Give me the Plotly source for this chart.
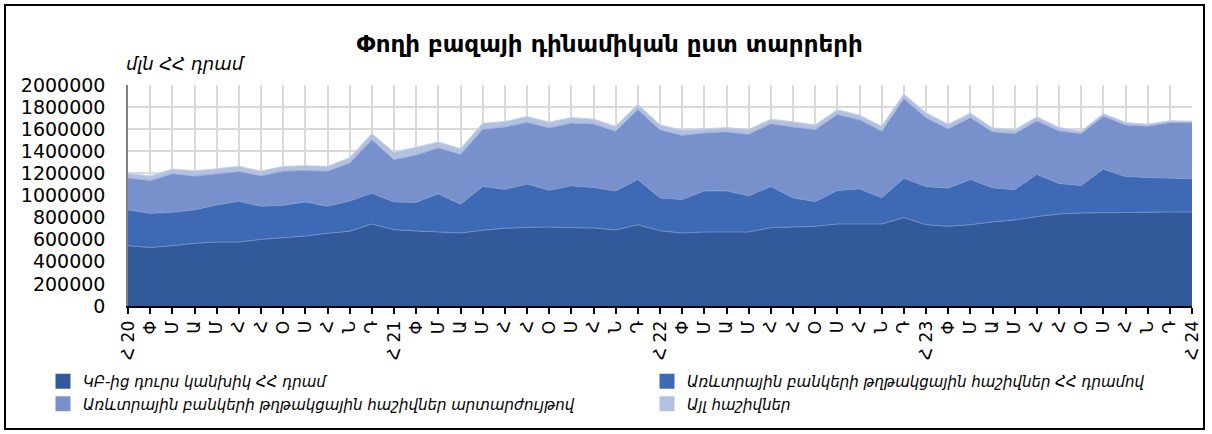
import plotly.graph_objects as go

# Month labels (Jan 2020 .. Jan 2024)
tick_labels = [
    "Հ 20", "Փ", "Մ", "Ա", "Մ", "Հ", "Հ", "Օ", "Ս", "Հ", "Ն", "Դ",
    "Հ 21", "Փ", "Մ", "Ա", "Մ", "Հ", "Հ", "Օ", "Ս", "Հ", "Ն", "Դ",
    "Հ 22", "Փ", "Մ", "Ա", "Մ", "Հ", "Հ", "Օ", "Ս", "Հ", "Ն", "Դ",
    "Հ 23", "Փ", "Մ", "Ա", "Մ", "Հ", "Հ", "Օ", "Ս", "Հ", "Ն", "Դ",
    "Հ 24",
]

series_names = [
    "ԿԲ-ից դուրս կանխիկ ՀՀ դրամ",
    "Առևտրային բանկերի թղթակցային հաշիվներ ՀՀ դրամով",
    "Առևտրային բանկերի թղթակցային հաշիվներ արտարժույթով",
    "Այլ հաշիվներ",
]

cash_outside_cb = [
    545000, 530000, 545000, 567000, 579000, 579000, 603000, 618000, 633000, 658000, 676000, 742000,
    690000, 679000, 673000, 661000, 685000, 703000, 712000, 715000, 709000, 706000, 688000, 736000,
    681000, 661000, 670000, 670000, 670000, 709000, 718000, 721000, 742000, 742000, 742000, 800000,
    736000, 721000, 736000, 761000, 779000, 809000, 833000, 842000, 845000, 851000, 851000, 851000,
    851000,
]
corr_amd = [
    325000, 309000, 303000, 303000, 336000, 369000, 300000, 294000, 309000, 245000, 275000, 279000,
    252000, 260000, 342000, 260000, 397000, 354000, 391000, 333000, 379000, 367000, 354000, 409000,
    297000, 303000, 372000, 372000, 327000, 373000, 261000, 224000, 303000, 319000, 237000, 357000,
    346000, 346000, 409000, 309000, 275000, 382000, 276000, 249000, 394000, 322000, 313000, 304000,
    301000,
]
corr_fx = [
    290000, 297000, 349000, 306000, 282000, 270000, 276000, 309000, 285000, 318000, 343000, 485000,
    383000, 428000, 418000, 452000, 518000, 564000, 560000, 564000, 569000, 575000, 540000, 634000,
    616000, 581000, 525000, 534000, 557000, 569000, 642000, 652000, 688000, 627000, 603000, 719000,
    624000, 536000, 561000, 506000, 506000, 485000, 476000, 469000, 479000, 466000, 463000, 506000,
    509000,
]
other_accounts = [
    43000, 40000, 42000, 48000, 45000, 46000, 42000, 43000, 43000, 43000, 48000, 54000,
    66000, 72000, 52000, 51000, 54000, 49000, 52000, 52000, 49000, 43000, 45000, 45000,
    46000, 46000, 39000, 39000, 43000, 40000, 46000, 42000, 43000, 39000, 45000, 42000,
    42000, 42000, 39000, 36000, 34000, 36000, 30000, 22000, 24000, 22000, 18000, 15000,
    12000,
]

fill_colors = ["#32599a", "#3d69b5", "#7891cc", "#b3c1e1"]
line_colors = ["#6f8fc4", "#7f9ad0", "#9fb2dc", "#c6d1ea"]
legend_ids = ["legend", "legend2", "legend", "legend2"]

x = list(range(len(tick_labels)))
FONT = "DejaVu Sans"

W, H = 1212, 434
ML, MR, MT, MB = 128, 20, 85, 128
PW, PH = W - ML - MR, H - MT - MB


def px_x(p):
    return (p - ML) / PW


def px_y(p):
    return (H - MB - p) / PH


fig = go.Figure()
for name, vals, fc, lc in zip(series_names,
                              [cash_outside_cb, corr_amd, corr_fx, other_accounts],
                              fill_colors, line_colors):
    fig.add_trace(go.Scatter(
        x=x, y=vals, name=name, mode="lines", stackgroup="one",
        line=dict(color=lc, width=1), fillcolor=fc, showlegend=False,
        hovertemplate="%{y}<extra>" + name + "</extra>",
    ))

# legend entries (square swatches like the reference)
for name, fc, lg in zip(series_names, fill_colors, legend_ids):
    fig.add_trace(go.Scatter(
        x=[None], y=[None], name=name, mode="markers", legend=lg,
        marker=dict(symbol="square", size=15, color=fc), showlegend=True,
    ))

legend_font = dict(family=FONT, size=15, style="italic", color="black")

fig.update_layout(
    width=W, height=H,
    margin=dict(l=ML, r=MR, t=MT, b=MB, autoexpand=False),
    paper_bgcolor="white", plot_bgcolor="white",
    font=dict(family=FONT, color="black"),
    title=dict(
        text="<b>Փողի բազայի դինամիկան ըստ տարրերի</b>",
        font=dict(family=FONT, size=23, color="black"),
        xref="container", x=0.503, xanchor="center",
        yref="container", y=1 - 44 / H, yanchor="middle",
    ),
    xaxis=dict(
        range=[0, len(x) - 1], automargin=False,
        tickmode="array", tickvals=x, ticktext=tick_labels,
        tickangle=-90, tickfont=dict(family=FONT, size=17, color="black"),
        ticks="outside", ticklen=6, tickwidth=1.5, tickcolor="black",
        showline=True, linecolor="black", linewidth=2,
        showgrid=True, gridcolor="#d9d9d9", gridwidth=1.5,
        zeroline=False,
    ),
    yaxis=dict(
        range=[0, 2000000], dtick=200000, tickformat="d", automargin=False,
        tickfont=dict(family=FONT, size=19, color="black"),
        showline=True, linecolor="#7f7f7f", linewidth=1.5,
        showgrid=True, gridcolor="#d9d9d9", gridwidth=1.5,
        zeroline=False, ticks="", ticklabelstandoff=17,
    ),
    legend=dict(
        orientation="v", x=px_x(43), y=px_y(365), xanchor="left", yanchor="top",
        font=legend_font, bgcolor="rgba(0,0,0,0)", tracegroupgap=0,
        traceorder="normal",
    ),
    legend2=dict(
        orientation="v", x=px_x(647), y=px_y(365), xanchor="left", yanchor="top",
        font=legend_font, bgcolor="rgba(0,0,0,0)", tracegroupgap=0,
        traceorder="normal",
    ),
    annotations=[dict(
        text="մլն ՀՀ դրամ", showarrow=False,
        xref="paper", yref="paper", x=px_x(124), y=px_y(64),
        xanchor="left", yanchor="middle",
        font=dict(family=FONT, size=18, style="italic", color="black"),
    )],
    shapes=[dict(
        type="rect", xref="paper", yref="paper",
        x0=px_x(5), x1=px_x(1204), y0=px_y(429), y1=px_y(5),
        line=dict(color="black", width=2), fillcolor="rgba(0,0,0,0)", layer="below",
    )],
)

fig.write_html(
    "out.html",
    config={"displayModeBar": False},
    post_script="document.body.style.margin='0';document.body.style.overflow='hidden';",
)
